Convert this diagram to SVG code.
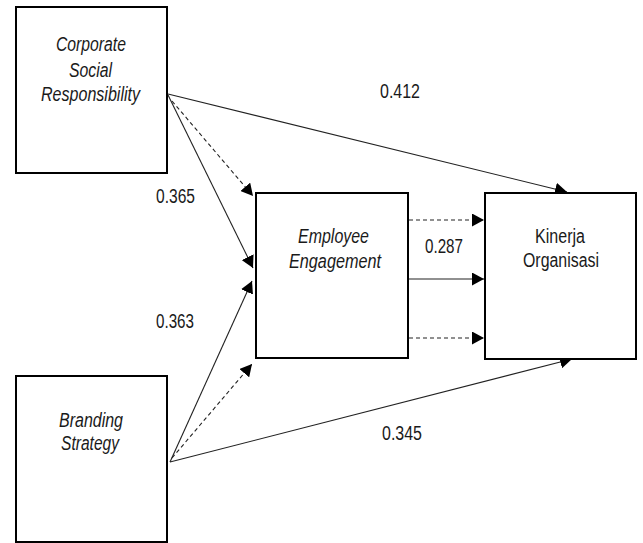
<svg xmlns="http://www.w3.org/2000/svg" width="643" height="543" viewBox="0 0 643 543">
<style>
.box{fill:#fff;stroke:#000;stroke-width:2}
.t{font-family:"Liberation Sans Narrow","Liberation Sans",Arial,sans-serif;font-size:20px;fill:#1a1a1a}
.i{font-style:italic}
.c{fill:none;stroke:#222;stroke-width:1.1}
.d{stroke-dasharray:4,3}
</style>
<defs>
<marker id="ah" markerUnits="userSpaceOnUse" markerWidth="13" markerHeight="13" refX="12" refY="6.5" orient="auto" viewBox="0 0 13 13">
<path d="M0,0 L12,6.5 L0,13 z" fill="#000"/>
</marker>
</defs>
<g id="connectors">
<path class="c" d="M168,94 L567,192" marker-end="url(#ah)"/>
<path class="c d" d="M172,101 L253,196" marker-end="url(#ah)"/>
<path class="c" d="M168,95 L253,268" marker-end="url(#ah)"/>
<path class="c" d="M170,462 L252,281" marker-end="url(#ah)"/>
<path class="c d" d="M172,458 L252,364" marker-end="url(#ah)"/>
<path class="c" d="M170,462 L572,359" marker-end="url(#ah)"/>
<path class="c d" d="M409,220 L484,220" marker-end="url(#ah)"/>
<path class="c" d="M409,279 L484,279" marker-end="url(#ah)"/>
<path class="c d" d="M409,338 L484,338" marker-end="url(#ah)"/>
</g>
<g id="csr">
<rect class="box" x="16" y="7" width="151" height="166"/>
<text class="t i" x="56" y="51" textLength="70" lengthAdjust="spacingAndGlyphs">Corporate</text>
<text class="t i" x="69" y="77" textLength="43" lengthAdjust="spacingAndGlyphs">Social</text>
<text class="t i" x="41" y="101" textLength="99" lengthAdjust="spacingAndGlyphs">Responsibility</text>
</g>
<g id="ee">
<rect class="box" x="256" y="193" width="152" height="165"/>
<text class="t i" x="298" y="243" textLength="71" lengthAdjust="spacingAndGlyphs">Employee</text>
<text class="t i" x="289" y="268" textLength="92" lengthAdjust="spacingAndGlyphs">Engagement</text>
</g>
<g id="ko">
<rect class="box" x="485" y="193" width="151" height="166"/>
<text class="t" x="535" y="243" textLength="50" lengthAdjust="spacingAndGlyphs">Kinerja</text>
<text class="t" x="523" y="267" textLength="76" lengthAdjust="spacingAndGlyphs">Organisasi</text>
</g>
<g id="bs">
<rect class="box" x="16" y="376" width="151" height="166"/>
<text class="t i" x="59" y="427" textLength="64" lengthAdjust="spacingAndGlyphs">Branding</text>
<text class="t i" x="61" y="450" textLength="58" lengthAdjust="spacingAndGlyphs">Strategy</text>
</g>
<g id="labels">
<text class="t" x="380" y="98" textLength="40" lengthAdjust="spacingAndGlyphs">0.412</text>
<text class="t" x="156" y="203" textLength="39" lengthAdjust="spacingAndGlyphs">0.365</text>
<text class="t" x="425" y="253" textLength="38" lengthAdjust="spacingAndGlyphs">0.287</text>
<text class="t" x="156" y="328" textLength="38" lengthAdjust="spacingAndGlyphs">0.363</text>
<text class="t" x="382" y="440" textLength="40" lengthAdjust="spacingAndGlyphs">0.345</text>
</g>
</svg>
